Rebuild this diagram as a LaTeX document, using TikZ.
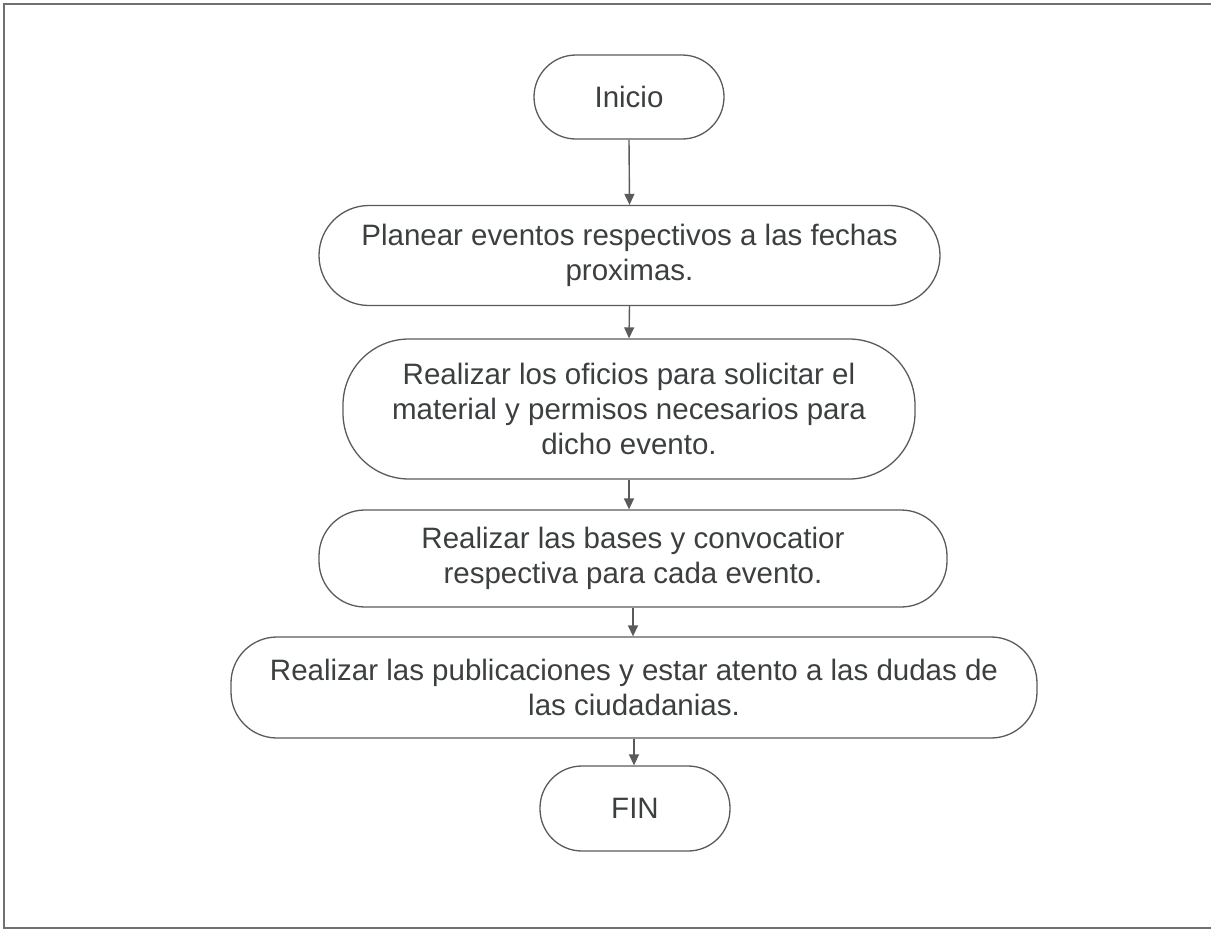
\documentclass[tikz,border=0pt]{standalone}
\usepackage{fontspec}
\setmainfont{Liberation Sans}
\usetikzlibrary{arrows.meta}
\definecolor{txt}{HTML}{3C3F40}
\definecolor{ln}{HTML}{5A5A5A}
\definecolor{frm}{HTML}{707070}
\begin{document}
\begin{tikzpicture}[x=1pt,y=-1pt,
  flowbox/.style={draw=ln, line width=1.3pt, rectangle, inner sep=0pt, align=center,
     text=txt, font=\fontsize{29.5}{35}\selectfont},
  flowarrow/.style={draw=ln, line width=1.4pt, -{Triangle[length=11pt,width=10pt]}}]
\useasboundingbox (0,0) rectangle (1211,935);
\draw[frm, line width=1.6pt] (1211,4) -- (4,4) -- (4,928) -- (1211,928);
\node[flowbox, minimum width=190pt, minimum height=84pt, rounded corners=42pt] (ini) at (629,97) {Inicio};
\node[flowbox, minimum width=621pt, minimum height=100pt, rounded corners=50pt] (b2) at (629.5,255.5) {Planear eventos respectivos a las fechas\\proximas.};
\node[flowbox, minimum width=572pt, minimum height=140pt, rounded corners=66pt] (b3) at (629,409) {Realizar los oficios para solicitar el\\material y permisos necesarios para\\dicho evento.};
\node[flowbox, minimum width=628pt, minimum height=97pt, rounded corners=46pt] (b4) at (633,558.5) {Realizar las bases y convocatior\\respectiva para cada evento.};
\node[flowbox, minimum width=806pt, minimum height=101pt, rounded corners=46pt] (b5) at (634,687.5) {Realizar las publicaciones y estar atento a las dudas de\\las ciudadanias.};
\node[flowbox, minimum width=190pt, minimum height=85pt, rounded corners=42pt] (fin) at (635,808.5) {FIN};
\draw[flowarrow] (ini.south) -- (b2.north);
\draw[flowarrow] (b2.south) -- (b3.north);
\draw[flowarrow] (b3.south) -- (b3.south |- b4.north);
\draw[flowarrow] (b4.south) -- (b4.south |- b5.north);
\draw[flowarrow] (b5.south) -- (b5.south |- fin.north);
\end{tikzpicture}
\end{document}
